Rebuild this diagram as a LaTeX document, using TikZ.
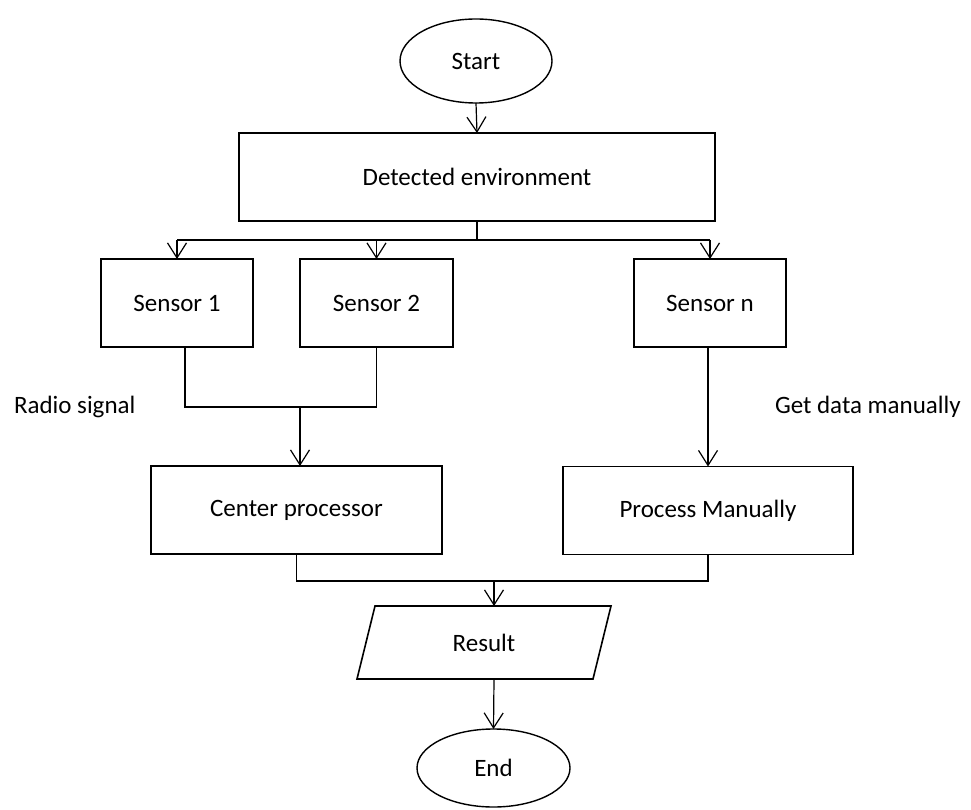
\documentclass[tikz,border=0pt]{standalone}
\usepackage{fontspec}
\setmainfont{Carlito}
\usetikzlibrary{shapes.geometric,arrows.meta}
\begin{document}
\begin{tikzpicture}[x=1pt,y=-1pt,
  every node/.style={font=\fontsize{25}{30}\selectfont, inner sep=0pt, outer sep=0pt},
  box/.style={draw=black, line width=1.6pt, rectangle, minimum width=#1, minimum height=88pt},
  terminal/.style={draw=black, line width=1.4pt, ellipse, minimum width=#1},
  link/.style={draw=black, line width=1.2pt},
  flow/.style={link, -{Straight Barb[length=15pt,width=19pt,line width=1.2pt]}}]
\useasboundingbox (0,0) rectangle (971,810);

% terminals
\node[terminal=152pt, minimum height=84pt] (start) at (476,61) {Start};
\node[terminal=153pt, minimum height=78pt] (finish) at (493.5,768) {End};

% process boxes
\node[box=476pt] (detect) at (477,177) {Detected environment};
\node[box=152pt] (s1) at (177,303) {Sensor 1};
\node[box=153pt] (s2) at (376.5,303) {Sensor 2};
\node[box=152pt] (sn) at (710,303) {Sensor n};
\node[box=291pt] (cp) at (296.5,510) {Center processor};
\node[box=290pt] (pm) at (708,510.5) {Process Manually};

% data (parallelogram) for the result
\draw[line width=1.6pt] (357,679) -- (593,679) -- (611,606) -- (375,606) -- cycle;
\node[minimum width=200pt, minimum height=73pt] (result) at (484,642.5) {Result};

% side labels
\node[anchor=west] (radio) at (14,407) {Radio signal};
\node[anchor=west] (manual) at (775,407) {Get data manually};

% junction points
\coordinate (split) at (477,240);
\coordinate (join) at (300,407);
\coordinate (merge) at (494,581);

% start to environment
\draw[flow] (start.south) -- (detect.north);

% environment fans out to the sensors
\draw[link] (detect.south) -- (split);
\draw[link] (s1.north |- split) -- (sn.north |- split);
\draw[flow] (s1.north |- split) -- (s1.north);
\draw[flow] (s2.north |- split) -- (s2.north);
\draw[flow] (sn.north |- split) -- (sn.north);

% sensors 1 and 2 join towards the center processor
\draw[link] (185,347) -- (185,407) -| (s2.south);
\draw[flow] (join) -- (join |- cp.north);

% sensor n to manual processing
\draw[flow] (sn.south -| pm.north) -- (pm.north);

% both branches merge into the result
\draw[link] (cp.south) |- (merge) -| (pm.south);
\draw[flow] (merge) -- (494,606);

% result to end
\draw[flow] (494,679) -- (finish.north);
\end{tikzpicture}
\end{document}
